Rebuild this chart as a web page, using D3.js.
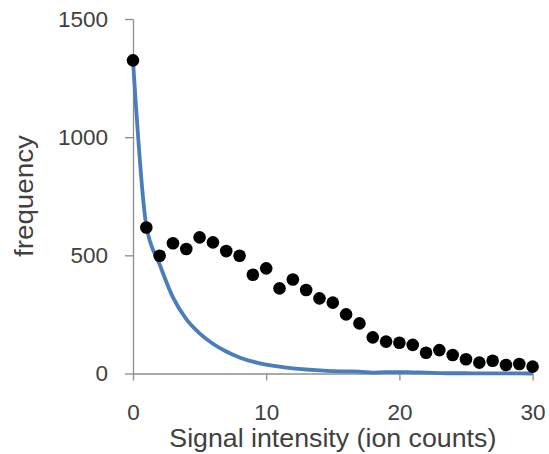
<!DOCTYPE html>
<html>
<head>
<meta charset="utf-8">
<script src="https://cdn.jsdelivr.net/npm/d3@7"></script>
<style>
html, body { margin: 0; padding: 0; background: #fff; }
svg { display: block; }
text { font-family: "Liberation Sans", Arial, sans-serif; fill: #404040; }
</style>
</head>
<body>
<svg id="chart" width="549" height="454"></svg>
<script>
// Observed frequencies (black dots), x = 0..30
const obsX = d3.range(0, 31);
const obsY = [1325, 618, 498, 551, 527, 576, 555, 518, 498, 418, 445, 360, 398, 353, 318, 300,
              250, 212, 153, 135, 130, 121, 88, 99, 78, 60, 46, 54, 36, 40, 29];
// Model curve (blue line)
const fitX = d3.range(0, 31);
const fitY = [1325, 625, 462, 322, 230, 170, 126, 93, 68, 50, 38, 29, 22, 17, 13, 10,
              9, 8, 4, 6, 6, 5, 4, 2, 1, 1, 0.5, 0.5, 0.3, 0.2, 0.1];
const xTicks = [0, 10, 20, 30];
const yTicks = [0, 500, 1000, 1500];
const xTitle = "Signal intensity (ion counts)";
const yTitle = "frequency";

const svg = d3.select("#chart");
const x = d3.scaleLinear().domain([0, 30]).range([133, 532.6]);
const y = d3.scaleLinear().domain([0, 1500]).range([373.5, 19]);
const axisColor = "#8c8c8c";

// Y axis
const gy = svg.append("g").attr("transform", `translate(${x(0)},0)`)
  .call(d3.axisLeft(y).tickValues(yTicks).tickSize(8).tickSizeOuter(0).tickPadding(17).tickFormat(d3.format("d")));
// X axis
const gx = svg.append("g").attr("transform", `translate(0,${y(0)})`)
  .call(d3.axisBottom(x).tickValues(xTicks).tickSize(7).tickSizeOuter(0).tickPadding(24).tickFormat(d3.format("d")));

[gx, gy].forEach(g => {
  g.select(".domain").attr("stroke", axisColor).attr("stroke-width", 1.3);
  g.selectAll(".tick line").attr("stroke", axisColor).attr("stroke-width", 1.3);
  g.selectAll(".tick text").attr("fill", "#404040")
    .style("font-family", '"Liberation Sans", Arial, sans-serif').style("font-size", "22.5px");
});

// Blue model line
const line = d3.line().x(d => x(d[0])).y(d => y(d[1])).curve(d3.curveMonotoneX);
svg.append("path")
  .datum(fitX.map((v, i) => [v, fitY[i]]))
  .attr("d", line)
  .attr("fill", "none")
  .attr("stroke", "#4A7EBB")
  .attr("stroke-width", 3.8)
  .attr("stroke-linejoin", "round");

// Black dots
svg.append("g").selectAll("circle")
  .data(obsX.map((v, i) => [v, obsY[i]]))
  .join("circle")
  .attr("cx", d => x(d[0]))
  .attr("cy", d => y(d[1]))
  .attr("r", 6.3)
  .attr("fill", "#000");

// Axis titles
svg.append("text")
  .attr("x", (x(0) + x(30)) / 2)
  .attr("y", 447)
  .attr("text-anchor", "middle")
  .style("font-size", "25px")
  .attr("textLength", 327)
  .attr("lengthAdjust", "spacingAndGlyphs")
  .text(xTitle);

svg.append("text")
  .attr("transform", "translate(33,196) rotate(-90)")
  .attr("text-anchor", "middle")
  .style("font-size", "25px")
  .attr("textLength", 122)
  .attr("lengthAdjust", "spacingAndGlyphs")
  .text(yTitle);
</script>
</body>
</html>
